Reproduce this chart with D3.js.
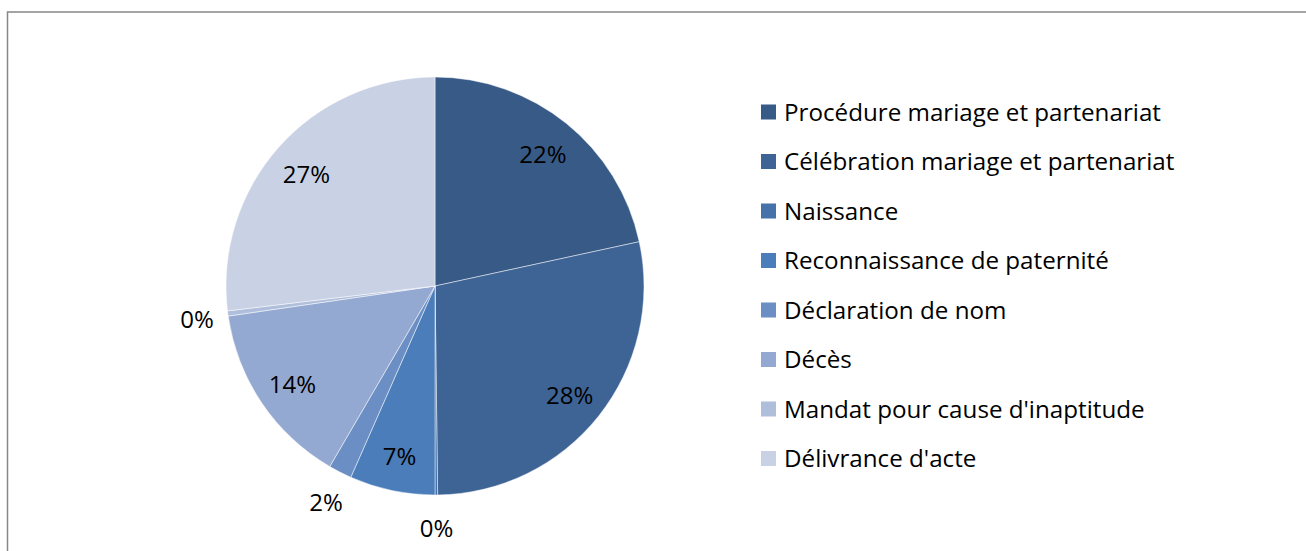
<!DOCTYPE html>
<html>
<head>
<meta charset="utf-8">
<script src="https://cdn.jsdelivr.net/npm/d3@7"></script>
<style>
  body { margin: 0; background: #fff; }
  text { font-family: "Open Sans", sans-serif; fill: #000; }
</style>
</head>
<body>
<svg id="chart" width="1306" height="551"></svg>
<script>
// categories and shares (percent), clockwise from 12 o'clock
var categories = [
  "Procédure mariage et partenariat",
  "Célébration mariage et partenariat",
  "Naissance",
  "Reconnaissance de paternité",
  "Déclaration de nom",
  "Décès",
  "Mandat pour cause d'inaptitude",
  "Délivrance d'acte"
]
var values = [21.6, 28.2, 0.2, 6.6, 1.8, 14.3, 0.4, 26.9]
var colors = ["#385a87", "#3e6496", "#4572a8", "#4b7dbb", "#6b8fc4", "#94a9d1", "#afbfdb", "#c9d1e4"]

var svg = d3.select("#chart")

// chart area frame (runs off the right and bottom of the picture)
svg.append("rect")
  .attr("x", 7.5)
  .attr("y", 12)
  .attr("width", 1400)
  .attr("height", 700)
  .attr("fill", "none")
  .attr("stroke", "#878787")
  .attr("stroke-width", 1.5)

var cx = 435, cy = 286, radius = 209

var pie = d3.pie().sort(null).value(function (d) { return d })
var arcs = pie(values)

var arc = d3.arc().innerRadius(0).outerRadius(radius)
var inLabel = d3.arc().innerRadius(172).outerRadius(172)
var outLabel = d3.arc().innerRadius(240).outerRadius(240)

var g = svg.append("g").attr("transform", "translate(" + cx + "," + cy + ")")

g.selectAll("path")
  .data(arcs)
  .enter()
  .append("path")
  .attr("d", arc)
  .attr("fill", function (d, i) { return colors[i] })
  .attr("stroke", "#ffffff")
  .attr("stroke-opacity", 0.6)
  .attr("stroke-width", 0.8)

g.selectAll("text.pct")
  .data(arcs)
  .enter()
  .append("text")
  .attr("class", "pct")
  .attr("transform", function (d) {
    var p = d.data >= 3 ? inLabel.centroid(d) : outLabel.centroid(d)
    return "translate(" + p[0] + "," + p[1] + ")"
  })
  .attr("text-anchor", "middle")
  .attr("dy", "0.45em")
  .style("font-size", "24px")
  .text(function (d) { return Math.round(d.data) + "%" })

// legend
var legend = svg.append("g").attr("transform", "translate(761,112)")
var rows = legend.selectAll("g")
  .data(categories)
  .enter()
  .append("g")
  .attr("transform", function (d, i) { return "translate(0," + (i * 49.5) + ")" })

rows.append("rect")
  .attr("x", 0)
  .attr("y", -7.5)
  .attr("width", 15)
  .attr("height", 15)
  .attr("fill", function (d, i) { return colors[i] })

rows.append("text")
  .attr("x", 23)
  .attr("dy", "0.36em")
  .style("font-size", "24.2px")
  .text(function (d) { return d })
</script>
</body>
</html>
